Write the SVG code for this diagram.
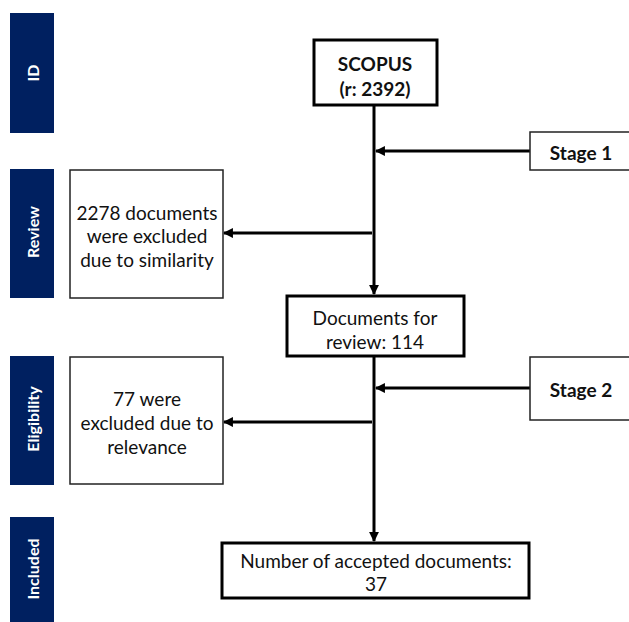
<svg xmlns="http://www.w3.org/2000/svg" width="629" height="622" viewBox="0 0 629 622">
<defs>
<style>
.bar{fill:#002060}
.bt{fill:#fff;font-family:"Lato","Liberation Sans",sans-serif;font-weight:bold;font-size:16px;text-anchor:middle;dominant-baseline:central}
.thick{fill:#fff;stroke:#000;stroke-width:3}
.thin{fill:#fff;stroke:#222;stroke-width:1.5}
.t{font-family:"Lato","Liberation Sans",sans-serif;font-size:19px;fill:#111;text-anchor:middle;dominant-baseline:central}
.b{font-weight:bold}
.c{stroke:#000;stroke-width:3;fill:none}
</style>
<marker id="ah" viewBox="0 0 10 10" refX="9" refY="5" markerWidth="3.3" markerHeight="3.3" orient="auto" markerUnits="strokeWidth">
<path d="M0,0 L10,5 L0,10 z" fill="#000"/>
</marker>
</defs>
<rect width="629" height="622" fill="#fff"/>
<g id="phases">
<g id="phase-id"><rect class="bar" x="10" y="13" width="44" height="120"/><text class="bt" transform="translate(32,73) rotate(-90)">ID</text></g>
<g id="phase-review"><rect class="bar" x="10" y="169" width="44" height="129"/><text class="bt" transform="translate(32,232) rotate(-90)">Review</text></g>
<g id="phase-eligibility"><rect class="bar" x="10" y="356" width="44" height="129"/><text class="bt" transform="translate(32,419) rotate(-90)">Eligibility</text></g>
<g id="phase-included"><rect class="bar" x="10" y="517" width="44" height="110"/><text class="bt" transform="translate(32,569) rotate(-90)">Included</text></g>
</g>
<g id="connectors">
<line class="c" x1="374" y1="105" x2="374" y2="294" marker-end="url(#ah)"/>
<line class="c" x1="530" y1="151" x2="376" y2="151" marker-end="url(#ah)"/>
<line class="c" x1="372" y1="233" x2="224" y2="233" marker-end="url(#ah)"/>
<line class="c" x1="374" y1="357" x2="374" y2="541" marker-end="url(#ah)"/>
<line class="c" x1="530" y1="388" x2="376" y2="388" marker-end="url(#ah)"/>
<line class="c" x1="372" y1="422" x2="224" y2="422" marker-end="url(#ah)"/>
</g>
<g id="scopus"><rect class="thick" x="314" y="40" width="123" height="65"/><text class="t b" x="375" y="63">SCOPUS</text><text class="t b" x="375" y="88">(r: 2392)</text></g>
<g id="stage1"><rect class="thin" x="530" y="132" width="104" height="38"/><text class="t b" x="581" y="152">Stage 1</text></g>
<g id="excluded-similarity"><rect class="thin" x="70" y="170" width="153" height="128"/><text class="t" x="147" y="212">2278 documents</text><text class="t" x="147" y="235">were excluded</text><text class="t" x="147" y="259">due to similarity</text></g>
<g id="documents-review"><rect class="thick" x="287" y="296" width="177" height="60"/><text class="t" x="375" y="317">Documents for</text><text class="t" x="375" y="341">review: 114</text></g>
<g id="stage2"><rect class="thin" x="530" y="357" width="104" height="63"/><text class="t b" x="581" y="389">Stage 2</text></g>
<g id="excluded-relevance"><rect class="thin" x="70" y="357" width="153" height="127"/><text class="t" x="147" y="398">77 were</text><text class="t" x="147" y="422">excluded due to</text><text class="t" x="147" y="446">relevance</text></g>
<g id="accepted"><rect class="thick" x="222" y="543" width="307" height="55"/><text class="t" x="376" y="560">Number of accepted documents:</text><text class="t" x="376" y="583">37</text></g>
</svg>
